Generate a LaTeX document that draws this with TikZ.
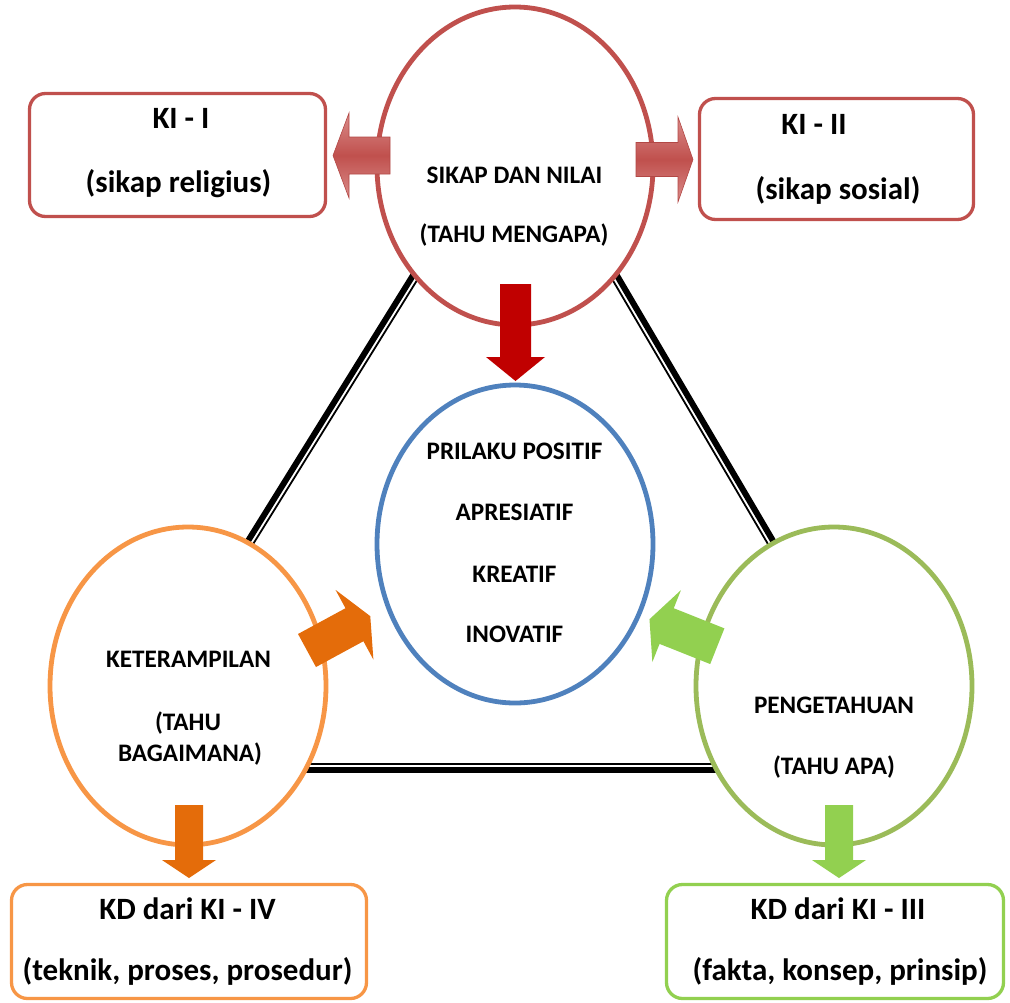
\documentclass[tikz,border=0pt]{standalone}
\usepackage{fontspec}
\setmainfont{Carlito}
\usetikzlibrary{calc,shapes.geometric}
\definecolor{cred}{HTML}{C0504D}
\definecolor{credL}{HTML}{DA8C8A}
\definecolor{credD}{HTML}{B24845}
\definecolor{cdark}{HTML}{C00000}
\definecolor{cblue}{HTML}{4F81BD}
\definecolor{corange}{HTML}{F79646}
\definecolor{corangeA}{HTML}{E46C0A}
\definecolor{cgreen}{HTML}{9BBB59}
\definecolor{cgreenA}{HTML}{92D050}
\tikzset{
  ell/.style={ellipse, fill=white, line width=4.8pt, minimum width=276pt, minimum height=318pt, inner sep=0pt},
  kbox/.style={rectangle, rounded corners=16pt, fill=white, line width=3.3pt, inner sep=0pt},
  thickline/.style={line width=6pt, black},
  thinline/.style={line width=1.8pt, black},
  etxt/.style={anchor=base, inner sep=0pt, font=\bfseries\fontsize{25.2}{30}\selectfont},
  btxt/.style={anchor=base, inner sep=0pt, font=\bfseries\fontsize{31}{36}\selectfont},
  pics/barrow/.style args={#1/#2/#3/#4}{code={
    \path[pic actions] (0,-#2) -- ({#1-#4},-#2) -- ({#1-#4},-#3) -- (#1,0)
      -- ({#1-#4},#3) -- ({#1-#4},#2) -- (0,#2) -- cycle;
  }}
}
\begin{document}
\begin{tikzpicture}[x=1pt,y=-1pt]
\useasboundingbox (0,0) rectangle (1010,1002);
% triangle connector end points
\coordinate (L1) at (418,273);
\coordinate (L2) at (249,545);
\coordinate (B1) at (300,767);
\coordinate (B2) at (722,767);
\coordinate (R1) at (772,545);
\coordinate (R2) at (612,273);
\foreach \a/\b in {L1/L2,B1/B2,R1/R2}{
  \draw[thickline] ($(\a)!3pt!-90:(\b)$) -- ($(\b)!3pt!90:(\a)$);
  \draw[thinline] ($(\a)!3pt!90:(\b)$) -- ($(\b)!3pt!-90:(\a)$);
}
% ellipses
\node[ell, draw=cred] (sikap) at (515,166) {};
\node[ell, draw=corange] (ketr) at (188,686) {};
\node[ell, draw=cgreen] (peng) at (834,686) {};
\node[ell, draw=cblue] (pril) at (515,544) {};
% boxes
\node[kbox, draw=cred, minimum width=296pt, minimum height=123pt] (ki1) at (177.5,155) {};
\node[kbox, draw=cred, minimum width=274pt, minimum height=121pt] (ki2) at (836.5,159) {};
\node[kbox, draw=corange, minimum width=355pt, minimum height=114pt] (kd4) at (189,941.5) {};
\node[kbox, draw=cgreenA, minimum width=337pt, minimum height=114pt] (kd3) at (835,941.5) {};
% block arrows
\pic[rotate=180, top color=credL, bottom color=credL, middle color=cred, draw=credD, line width=0.6pt] at (390,155.5) {barrow=57/18.5/42.5/16};
\pic[top color=credL, bottom color=credL, middle color=cred, draw=credD, line width=0.6pt] at (636,159.5) {barrow=57/17/42.5/15};
\pic[rotate=-90, fill=cdark] at (515.5,284) {barrow=97/15.5/29.5/24};
\pic[rotate=-90, fill=corangeA] at (189,805) {barrow=73/14/27/18};
\pic[rotate=-90, fill=cgreenA] at (839,805) {barrow=73/14/27/18};
\pic[rotate=28.5, fill=corangeA] at (307,650.5) {barrow=72/18.8/39.7/18};
\pic[rotate=158.3, fill=cgreenA] at (717.3,646.2) {barrow=73/19.2/38.7/18.5};
% ellipse texts
\node[etxt] (s1) at (514.5,183) {SIKAP DAN NILAI};
\node[etxt] (s2) at (514,242) {(TAHU MENGAPA)};
\node[etxt] (p1) at (514.5,459) {PRILAKU POSITIF};
\node[etxt] (p2) at (514.5,520) {APRESIATIF};
\node[etxt] (p3) at (514.5,582) {KREATIF};
\node[etxt] (p4) at (514.5,642) {INOVATIF};
\node[etxt] (k1) at (188.5,667) {KETERAMPILAN};
\node[etxt] (k2) at (188,730) {(TAHU};
\node[etxt] (k3) at (190,761) {BAGAIMANA)};
\node[etxt] (g1) at (834,713) {PENGETAHUAN};
\node[etxt] (g2) at (834,774) {(TAHU APA)};
% box texts
\node[btxt] (b1) at (181,128) {KI - I};
\node[btxt] (b2) at (178.5,192) {(sikap religius)};
\node[btxt] (b3) at (814,134) {KI - II};
\node[btxt] (b4) at (838,199) {(sikap sosial)};
\node[btxt] (b5) at (187.5,919) {KD dari KI - IV};
\node[btxt] (b6) at (187.5,980) {(teknik, proses, prosedur)};
\node[btxt] (b7) at (838,919) {KD dari KI - III};
\node[btxt] (b8) at (840,980) {(fakta, konsep, prinsip)};
\end{tikzpicture}
\end{document}
